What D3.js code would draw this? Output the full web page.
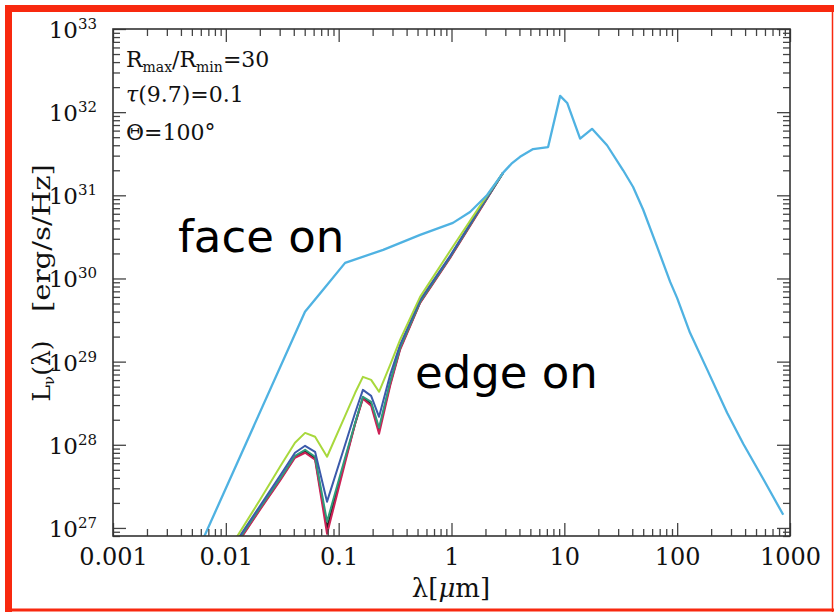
<!DOCTYPE html>
<html>
<head>
<meta charset="utf-8">
<script src="https://cdn.jsdelivr.net/npm/d3@7"></script>
<style>
body { margin: 0; background: #fff; }
svg { display: block; }
</style>
</head>
<body>
<svg></svg>
<script>
const width = 834;
const height = 612;
const plot = { left: 113, right: 790, top: 29, bottom: 536 };
const serif = "'DejaVu Serif', serif";

// face on curve (wavelength in micron, L_nu in erg/s/Hz)
const faceLambda = [0.0063, 0.0503, 0.0728, 0.114, 0.248, 0.527, 1.03, 1.46, 2.07, 2.86, 3.4, 4.05, 5.29, 7.18,
    9.18, 10.6, 13.8, 17.6, 23.9, 33.2, 40.7, 50, 66.5, 86.7, 100, 130, 185, 277, 385, 578, 871];
const faceLum = [7.4e26, 3.97e29, 7.3e29, 1.54e30, 2.21e30, 3.34e30, 4.66e30, 6.3e30, 1.01e31, 1.86e31, 2.4e31, 2.9e31, 3.6e31, 3.8e31,
    1.57e32, 1.29e32, 4.8e31, 6.3e31, 4.0e31, 2.0e31, 1.26e31, 6.7e30, 2.4e30, 9.1e29, 5.8e29, 2.22e29, 7.96e28, 2.43e28, 1.03e28, 3.9e27, 1.44e27];

// edge on curves, they join the face on curve near 3 micron
const edgeLambda = [0.0109, 0.0201, 0.0302, 0.0410, 0.0504, 0.0618, 0.0789, 0.114, 0.140, 0.164,
    0.194, 0.228, 0.286, 0.350, 0.527, 0.973, 1.79, 2.86];
const edgeBlack = [4.9e26, 1.7e27, 3.8e27, 7.2e27, 8.4e27, 6.9e27, 1.0e27, 6.5e27, 1.8e28, 3.7e28,
    3.1e28, 1.5e28, 5.4e28, 1.43e29, 5.15e29, 1.8e30, 6.8e30, 1.86e31];
const edgeRed = [4.77e26, 1.66e27, 3.69e27, 6.98e27, 8.02e27, 6.61e27, 8.51e26, 6.08e27, 1.79e28, 3.57e28,
    2.94e28, 1.36e28, 5.12e28, 1.39e29, 5.09e29, 1.77e30, 6.68e30, 1.86e31];
const edgeTeal = [5.04e26, 1.75e27, 3.90e27, 7.38e27, 8.71e27, 7.18e27, 1.19e27, 6.98e27, 1.84e28, 3.78e28,
    3.29e28, 1.60e28, 5.71e28, 1.47e29, 5.24e29, 1.82e30, 6.87e30, 1.86e31];
const edgeBlue = [5.32e26, 1.85e27, 4.24e27, 8.02e27, 9.73e27, 8.24e27, 2.07e27, 1.00e28, 2.43e28, 4.58e28,
    3.88e28, 2.17e28, 6.93e28, 1.59e29, 5.53e29, 1.87e30, 7.06e30, 1.86e31];
const edgeGreen = [5.78e26, 2.18e27, 5.45e27, 1.06e28, 1.39e28, 1.25e28, 7.18e27, 2.23e28, 4.22e28, 6.56e28,
    6.04e28, 4.34e28, 9.16e28, 1.83e29, 6.01e29, 2.15e30, 7.46e30, 1.86e31];

const xMajor = [0.001, 0.01, 0.1, 1, 10, 100, 1000];
const xTickLabels = ["0.001", "0.01", "0.1", "1", "10", "100", "1000"];
const yExponents = [27, 28, 29, 30, 31, 32, 33];

const series = [
    { x: edgeLambda, y: edgeBlack, color: "#222222", width: 2 },
    { x: edgeLambda, y: edgeRed, color: "#cc2256", width: 2 },
    { x: edgeLambda, y: edgeTeal, color: "#2f9c7c", width: 2 },
    { x: edgeLambda, y: edgeBlue, color: "#3b5aab", width: 2 },
    { x: edgeLambda, y: edgeGreen, color: "#a8d83c", width: 2 },
    { x: faceLambda, y: faceLum, color: "#4fb2e2", width: 2.3 },
];

const svg = d3.select("svg")
    .attr("width", width)
    .attr("height", height)
    .attr("viewBox", `0 0 ${width} ${height}`);

const x = d3.scaleLog().domain([0.001, 1000]).range([plot.left, plot.right]);
const y = d3.scaleLog().domain([8e26, 1e33]).range([plot.bottom, plot.top]);

const isMajor = d => Math.abs(Math.log10(d) - Math.round(Math.log10(d))) < 1e-6;

svg.append("clipPath").attr("id", "plotClip")
    .append("rect")
    .attr("x", plot.left).attr("y", plot.top)
    .attr("width", plot.right - plot.left).attr("height", plot.bottom - plot.top);

const line = d3.line()
    .x(d => x(d[0]))
    .y(d => y(d[1]));

svg.append("g")
    .attr("clip-path", "url(#plotClip)")
    .selectAll("path")
    .data(series)
    .enter()
    .append("path")
    .attr("d", s => line(s.x.map((v, i) => [v, s.y[i]])))
    .attr("fill", "none")
    .attr("stroke", s => s.color)
    .attr("stroke-width", s => s.width)
    .attr("stroke-linejoin", "round");

// axes, ticks pointing inward on all four sides
function styleTicks(g, sign, horizontal) {
    g.select(".domain").remove();
    g.selectAll(".tick line")
        .attr("stroke", "#444")
        .attr("stroke-width", 1.3)
        .attr(horizontal ? "y2" : "x2", d => sign * (isMajor(d) ? 13 : 7));
}

const xLabel = d => {
    const i = xMajor.findIndex(m => Math.abs(m - d) / m < 1e-6);
    return i >= 0 ? xTickLabels[i] : "";
};

svg.append("g")
    .attr("transform", `translate(0,${plot.bottom})`)
    .call(d3.axisBottom(x).tickSizeInner(-7).tickSizeOuter(0).tickPadding(12).tickFormat(xLabel))
    .call(g => styleTicks(g, -1, true))
    .call(g => g.selectAll("text")
        .attr("font-family", serif)
        .attr("font-size", 24)
        .attr("fill", "#111"));

svg.append("g")
    .attr("transform", `translate(0,${plot.top})`)
    .call(d3.axisTop(x).tickSizeInner(-7).tickSizeOuter(0).tickFormat(""))
    .call(g => styleTicks(g, 1, true));

svg.append("g")
    .attr("transform", `translate(${plot.left},0)`)
    .call(d3.axisLeft(y).tickSizeInner(-7).tickSizeOuter(0).tickFormat(""))
    .call(g => styleTicks(g, 1, false));

svg.append("g")
    .attr("transform", `translate(${plot.right},0)`)
    .call(d3.axisRight(y).tickSizeInner(-7).tickSizeOuter(0).tickFormat(""))
    .call(g => styleTicks(g, -1, false));

// y tick labels as 10 with a superscript
const yLab = svg.append("g")
    .selectAll("text")
    .data(yExponents)
    .enter()
    .append("text")
    .attr("x", 97)
    .attr("y", d => y(Math.pow(10, d)) + 9)
    .attr("text-anchor", "end")
    .attr("font-family", serif)
    .attr("fill", "#111");
yLab.append("tspan").attr("font-size", 23).text("10");
yLab.append("tspan").attr("font-size", 15).attr("dy", -9).text(d => d);

// frame
svg.append("rect")
    .attr("x", plot.left).attr("y", plot.top)
    .attr("width", plot.right - plot.left).attr("height", plot.bottom - plot.top)
    .attr("fill", "none")
    .attr("stroke", "#333")
    .attr("stroke-width", 1.6);

// parameters in the top left corner
const notes = svg.append("g")
    .attr("font-family", serif)
    .attr("font-size", 22)
    .attr("fill", "#111");

const n1 = notes.append("text").attr("x", 126).attr("y", 67);
n1.append("tspan").text("R");
n1.append("tspan").attr("font-size", 14).attr("dy", 5).text("max");
n1.append("tspan").attr("dy", -5).text("/R");
n1.append("tspan").attr("font-size", 14).attr("dy", 5).text("min");
n1.append("tspan").attr("dy", -5).text("=30");

const n2 = notes.append("text").attr("x", 126).attr("y", 102);
n2.append("tspan").attr("font-style", "italic").text("τ");
n2.append("tspan").text("(9.7)=0.1");

notes.append("text").attr("x", 126).attr("y", 140).text("Θ=100°");

// axis titles
const xt = svg.append("text")
    .attr("x", 451).attr("y", 597)
    .attr("text-anchor", "middle")
    .attr("font-family", serif)
    .attr("font-size", 26)
    .attr("fill", "#111");
xt.append("tspan").text("λ[");
xt.append("tspan").attr("font-style", "italic").text("μ");
xt.append("tspan").text("m]");

const yTitle = svg.append("g")
    .attr("transform", "translate(50,0) rotate(-90)")
    .attr("font-family", serif)
    .attr("font-size", 25)
    .attr("fill", "#111");

const yt1 = yTitle.append("text").attr("x", -371).attr("text-anchor", "middle");
yt1.append("tspan").text("L");
yt1.append("tspan").attr("font-size", 15).attr("dy", 4).text("ν");
yt1.append("tspan").attr("dy", -4).text("(λ)");

yTitle.append("text")
    .attr("x", -238)
    .attr("text-anchor", "middle")
    .attr("textLength", 148)
    .attr("lengthAdjust", "spacingAndGlyphs")
    .text("[erg/s/Hz]");

// big hand written labels
const hand = "'Comic Sans MS', 'DejaVu Sans', sans-serif";
svg.append("text")
    .attr("x", 178).attr("y", 252)
    .attr("font-family", hand)
    .attr("font-size", 45)
    .attr("fill", "#000")
    .text("face on");

svg.append("text")
    .attr("x", 415).attr("y", 388)
    .attr("font-family", hand)
    .attr("font-size", 45)
    .attr("fill", "#000")
    .text("edge on");

// red border of the slide
const red = "#f8290f";
const border = svg.append("g").attr("stroke", red);
border.append("line").attr("x1", 5).attr("x2", 834).attr("y1", 8.5).attr("y2", 8.5).attr("stroke-width", 7);
border.append("line").attr("x1", 8.5).attr("x2", 8.5).attr("y1", 5).attr("y2", 612).attr("stroke-width", 7);
border.append("line").attr("x1", 5).attr("x2", 834).attr("y1", 610).attr("y2", 610).attr("stroke-width", 3);
border.append("line").attr("x1", 832.5).attr("x2", 832.5).attr("y1", 5).attr("y2", 612).attr("stroke-width", 1.5);
</script>
</body>
</html>
